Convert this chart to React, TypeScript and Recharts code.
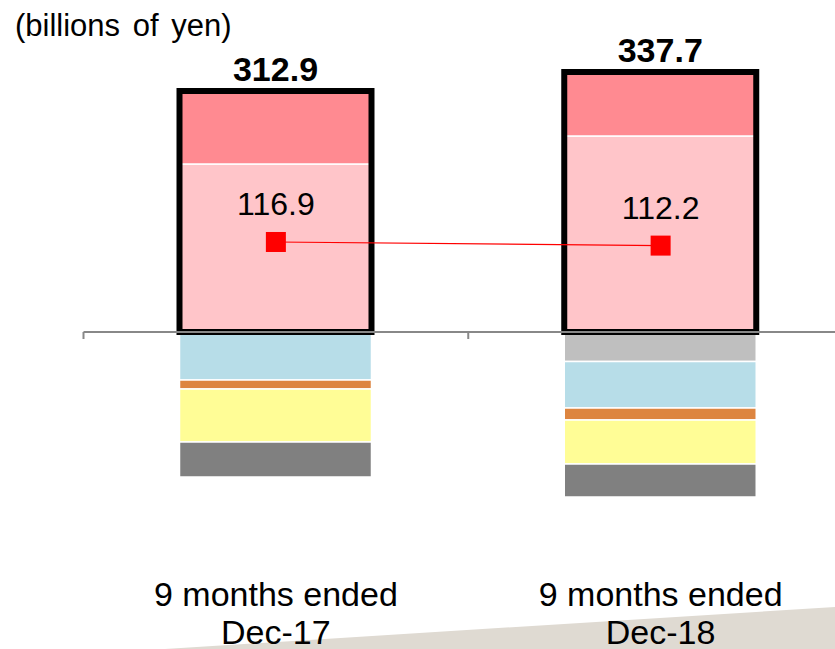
import React from 'react';
import { ComposedChart, Bar, Line, XAxis, YAxis, ReferenceLine, LabelList } from 'recharts';

// values in billions of yen
const categories = ['Dec-17', 'Dec-18'];
const pinkLight = [218.2, 254.5];
const pinkDark = [94.7, 83.2];
const grayLight = [0, -38.3];
const blue = [-62.3, -60.4];
const orange = [-11.7, -15.6];
const yellow = [-68.8, -57.1];
const grayDark = [-45.5, -42.9];
const totals = [312.9, 337.7];
const lineValues = [116.9, 112.2];

const Y_MIN = -250;
const Y_MAX = 400;
const CHART_W = 870;
const CHART_H = 649;
const MARGIN = { top: 24, right: 17, bottom: 0, left: 83.5 };
const XAXIS_H = 124.5;
const PLOT_H = CHART_H - MARGIN.top - MARGIN.bottom - XAXIS_H;
const ZERO_Y = MARGIN.top + (Y_MAX / (Y_MAX - Y_MIN)) * PLOT_H;
const BAND = (CHART_W - MARGIN.left - MARGIN.right) / categories.length;
const FONT = '"Liberation Sans", Arial, sans-serif';

const data = categories.map((c, i) => ({
  name: c,
  pinkLight: pinkLight[i],
  pinkDark: pinkDark[i],
  grayLight: grayLight[i],
  blue: blue[i],
  orange: orange[i],
  yellow: yellow[i],
  grayDark: grayDark[i],
  total: totals[i],
  line: lineValues[i],
}));

const CategoryTick = (props: any) => {
  const { x, y, payload } = props;
  const left = x - BAND / 2;
  return (
    <g>
      <line x1={left} x2={left} y1={ZERO_Y} y2={ZERO_Y + 7} stroke="#888" strokeWidth={2} />
      <text x={x} y={y + 81} textAnchor="middle" fontSize={34} fontFamily={FONT} fill="#000">
        <tspan x={x}>9 months ended</tspan>
        <tspan x={x} dy={38}>{payload.value}</tspan>
      </text>
    </g>
  );
};

// red square markers on the line
const SquareDot = (props: any) => {
  const { cx, cy, index } = props;
  if (cx == null || cy == null) return null;
  return <rect key={index} x={cx - 10} y={cy - 10} width={20} height={20} fill="#FF0000" />;
};

const App: React.FC = () => {
  return (
    <div style={{ position: 'fixed', left: 0, top: 0, width: 835, height: 649, overflow: 'hidden', background: '#fff' }}>
      <svg width={835} height={649} style={{ position: 'absolute', left: 0, top: 0 }}>
        <polygon points="165,649 835,607 835,649" fill="#DFDAD2" />
      </svg>
      <div style={{ position: 'absolute', left: 0, top: 0 }}>
        <ComposedChart width={CHART_W} height={CHART_H} data={data} margin={MARGIN} stackOffset="sign">
          <XAxis
            dataKey="name"
            axisLine={false}
            tickLine={false}
            tickSize={0}
            tickMargin={0}
            height={XAXIS_H}
            tick={<CategoryTick />}
            interval={0}
          />
          <XAxis dataKey="name" xAxisId="outline" hide />
          <YAxis hide domain={[Y_MIN, Y_MAX]} allowDataOverflow />
          <ReferenceLine y={0} stroke="#888" strokeWidth={2} />
          <Bar dataKey="pinkLight" stackId="a" barSize={192} fill="#FFC5C9" stroke="#fff" strokeWidth={1.5} isAnimationActive={false} />
          <Bar dataKey="pinkDark" stackId="a" barSize={192} fill="#FF8A91" stroke="#fff" strokeWidth={1.5} isAnimationActive={false} />
          <Bar dataKey="grayLight" stackId="a" barSize={192} fill="#BFBFBF" stroke="#fff" strokeWidth={1.5} isAnimationActive={false} />
          <Bar dataKey="blue" stackId="a" barSize={192} fill="#B7DDE8" stroke="#fff" strokeWidth={1.5} isAnimationActive={false} />
          <Bar dataKey="orange" stackId="a" barSize={192} fill="#DD8540" stroke="#fff" strokeWidth={1.5} isAnimationActive={false} />
          <Bar dataKey="yellow" stackId="a" barSize={192} fill="#FFFD96" stroke="#fff" strokeWidth={1.5} isAnimationActive={false} />
          <Bar dataKey="grayDark" stackId="a" barSize={192} fill="#808080" stroke="#fff" strokeWidth={1.5} isAnimationActive={false} />
          <Bar dataKey="total" xAxisId="outline" barSize={192} fill="none" stroke="#000" strokeWidth={6} isAnimationActive={false}>
            <LabelList dataKey="total" position="top" offset={10} fontSize={34} fontWeight="bold" fill="#000" fontFamily={FONT} />
          </Bar>
          <Line dataKey="line" stroke="#FF0000" strokeWidth={1.2} dot={SquareDot} activeDot={false} isAnimationActive={false}>
            <LabelList dataKey="line" position="top" offset={27} fontSize={32} fill="#000" fontFamily={FONT} />
          </Line>
        </ComposedChart>
      </div>
      <div style={{ position: 'absolute', left: 15, top: 8, fontFamily: FONT, fontSize: 31, color: '#000', wordSpacing: 4 }}>
        (billions of yen)
      </div>
    </div>
  );
};

export default App;
